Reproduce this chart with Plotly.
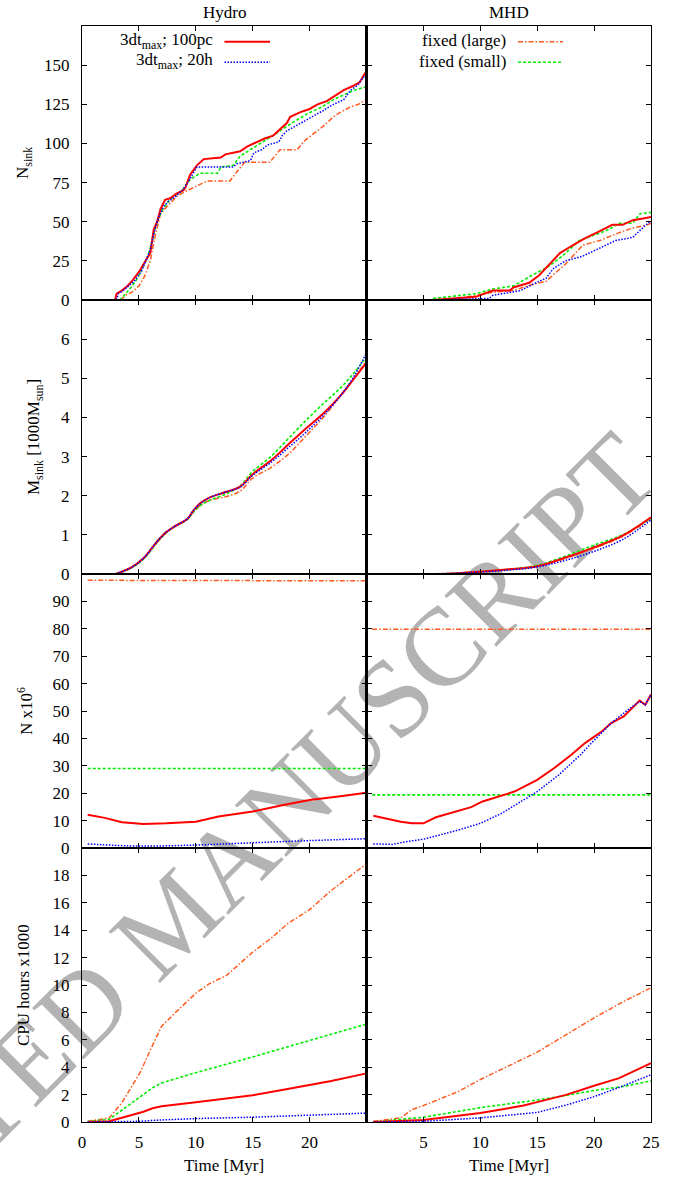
import plotly.graph_objects as go
from plotly.subplots import make_subplots

# ---------------- data ----------------
# Row 1: number of sinks (Hydro)
ns_h_red_t = [2.9, 3.05, 3.5, 4.0, 4.5, 5.1, 5.5, 6.0, 6.3, 6.6, 6.9, 7.3, 7.75, 8.3, 8.9, 9.1, 9.5, 10.1, 10.7, 12.2, 12.6, 13.9, 14.5, 15.4, 16.0, 16.8, 17.6, 18.0, 18.3, 19.2, 20.0, 20.7, 21.5, 22.1, 23.0, 23.9, 24.4, 24.8, 25.0]
ns_h_red_v = [0, 4, 6, 9, 13, 19, 24, 30, 45, 50, 58, 64, 65, 68, 70, 72, 80, 86, 90, 91, 93, 95, 98, 101, 103, 105, 110, 113, 117, 120, 122, 125, 127, 130, 134, 137, 139, 144, 146]
ns_h_blue_t = [3.0, 3.2, 3.6, 4.1, 4.6, 5.2, 5.6, 6.0, 6.4, 6.8, 7.2, 7.6, 8.2, 8.8, 9.3, 9.8, 10.1, 13.3, 13.6, 14.8, 15.1, 15.8, 16.3, 17.3, 17.6, 18.0, 19.0, 20.4, 21.2, 22.1, 23.0, 23.6, 24.2, 24.7, 25.0]
ns_h_blue_v = [0, 4, 6, 9, 12, 18, 25, 32, 45, 54, 60, 63, 66, 70, 75, 81, 85, 85, 87, 89, 94, 96, 99, 101, 105, 108, 112, 118, 121, 125, 128, 134, 137, 142, 144]
ns_h_green_t = [3.3, 3.6, 4.3, 4.8, 5.3, 5.8, 6.3, 6.7, 7.1, 7.6, 8.2, 8.8, 9.5, 10.0, 10.4, 11.9, 12.2, 13.3, 13.9, 14.8, 15.7, 16.5, 17.2, 18.0, 18.9, 19.8, 21.0, 22.1, 23.0, 23.9, 24.9, 25.0]
ns_h_green_v = [0, 2, 8, 13, 20, 28, 42, 52, 58, 63, 67, 70, 77, 79, 81, 81, 85, 86, 92, 96, 100, 104, 107, 111, 115, 119, 123, 128, 131, 134, 136, 137]
ns_h_orange_t = [3.4, 3.8, 4.4, 5.0, 5.5, 6.0, 6.4, 6.9, 7.5, 8.3, 9.0, 9.8, 10.4, 11.0, 13.0, 13.5, 14.3, 16.5, 17.4, 18.9, 19.6, 20.7, 21.2, 22.1, 22.5, 23.5, 24.3, 25.0]
ns_h_orange_v = [0, 3, 5, 9, 15, 25, 40, 55, 60, 66, 69, 72, 74, 76, 76, 81, 88, 88, 96, 96, 102, 108, 111, 117, 119, 123, 125, 128]
# Row 1: number of sinks (MHD)
ns_m_red_t = [5.85, 8.2, 9.6, 11.1, 12.6, 12.9, 14.3, 15.2, 16.1, 17.0, 17.9, 19.1, 20.5, 21.6, 22.5, 23.4, 24.3, 25.0]
ns_m_red_v = [0, 1, 2, 6, 6, 8, 11, 16, 23, 30, 34, 39, 44, 48, 48, 51, 52, 53]
ns_m_green_t = [5.85, 8.2, 9.6, 11.1, 12.9, 14.6, 15.9, 17.2, 18.7, 20.2, 21.3, 22.2, 23.4, 24.0, 24.7, 25.0]
ns_m_green_v = [1, 3, 4, 7, 9, 16, 21, 28, 38, 42, 45, 49, 49, 55, 56, 56]
ns_m_orange_t = [7.0, 8.2, 11.1, 12.9, 14.6, 15.8, 16.4, 17.5, 19.0, 20.5, 22.2, 23.4, 24.7, 25.0]
ns_m_orange_v = [0, 1, 5, 6, 10, 12, 16, 23, 35, 38, 43, 46, 48, 49]
ns_m_blue_t = [5.85, 10.8, 11.1, 13.5, 14.9, 15.8, 16.4, 17.5, 19.0, 20.5, 21.9, 23.4, 24.3, 24.7, 25.0]
ns_m_blue_v = [0, 1, 3, 6, 11, 14, 20, 25, 28, 33, 38, 40, 46, 49, 50]

# Row 2: sink mass [1000 Msun]
ms_h_t = [2.95, 4.3, 5.4, 6.6, 7.4, 8.1, 9.3, 9.7, 10.4, 11.2, 12.7, 13.9, 15.0, 16.6, 18.1, 19.6, 21.2, 22.7, 23.8, 25.0]
ms_h_red = [0, 0.16, 0.4, 0.83, 1.07, 1.21, 1.42, 1.59, 1.81, 1.95, 2.1, 2.23, 2.55, 2.9, 3.3, 3.7, 4.1, 4.55, 4.95, 5.4]
ms_h_green = [0, 0.15, 0.38, 0.8, 1.05, 1.2, 1.4, 1.55, 1.75, 1.88, 2.05, 2.25, 2.62, 3.0, 3.45, 3.9, 4.35, 4.75, 5.1, 5.55]
ms_h_blue = [0, 0.16, 0.4, 0.83, 1.07, 1.21, 1.42, 1.59, 1.8, 1.95, 2.1, 2.22, 2.52, 2.85, 3.22, 3.6, 4.05, 4.55, 5.0, 5.65]
ms_h_orange = [0, 0.15, 0.4, 0.82, 1.05, 1.2, 1.4, 1.55, 1.75, 1.88, 1.98, 2.12, 2.45, 2.72, 3.05, 3.5, 4.0, 4.55, 4.95, 5.45]
ms_m_t = [6.0, 8.0, 10.0, 12.5, 15.0, 17.5, 20.0, 22.5, 25.0]
ms_m_red = [0, 0.02, 0.06, 0.12, 0.2, 0.42, 0.68, 0.98, 1.45]
ms_m_green = [0, 0.02, 0.06, 0.12, 0.22, 0.46, 0.74, 1.0, 1.42]
ms_m_blue = [0, 0.02, 0.05, 0.1, 0.18, 0.35, 0.58, 0.88, 1.38]
ms_m_orange = [0, 0.02, 0.05, 0.11, 0.2, 0.4, 0.66, 0.96, 1.43]

# Row 3: number of cells x 10^6
nc_fixed_t = [0.5, 25.0]
nc_h_orange = [97.7, 97.5]
nc_h_green = [29.0, 29.0]
nc_m_orange = [79.8, 79.8]
nc_m_green = [19.4, 19.4]
nc_h_red_t = [0.5, 2.0, 3.5, 5.4, 7.4, 10.0, 12.0, 15.0, 17.7, 20.0, 22.7, 25.0]
nc_h_red_v = [12.1, 11.0, 9.4, 8.8, 9.0, 9.6, 11.5, 13.3, 15.7, 17.5, 18.9, 20.2]
nc_h_blue_t = [0.5, 5.0, 10.0, 15.0, 20.0, 25.0]
nc_h_blue_v = [1.5, 0.7, 1.1, 1.9, 2.7, 3.4]
nc_m_red_t = [0.6, 3.0, 4.0, 5.0, 6.1, 8.0, 9.2, 10.2, 11.9, 13.0, 15.0, 16.5, 18.0, 19.2, 20.7, 21.5, 22.6, 24.0, 24.5, 25.0]
nc_m_red_v = [11.8, 9.6, 9.0, 9.0, 11.2, 13.3, 14.9, 17.0, 19.1, 20.6, 24.9, 29.2, 34.0, 38.3, 42.6, 45.6, 48.0, 53.8, 52.3, 56.0]
nc_m_blue_t = [0.6, 2.3, 3.45, 5.0, 8.1, 10.0, 11.9, 13.8, 15.0, 16.9, 18.8, 19.9, 21.5, 23.0, 24.0, 24.5, 25.0]
nc_m_blue_v = [1.5, 1.3, 2.3, 3.2, 6.6, 9.0, 12.7, 17.6, 20.6, 26.7, 34.0, 38.9, 45.6, 50.5, 53.5, 52.3, 56.0]

# Row 4: CPU hours x 1000
cpu_h_orange_t = [0.5, 2.4, 3.5, 5.1, 6.2, 7.0, 8.1, 10.0, 11.2, 12.7, 15.0, 16.6, 18.1, 20.0, 21.9, 23.5, 25.0]
cpu_h_orange_v = [0.05, 0.3, 1.4, 3.6, 5.6, 7.0, 7.9, 9.4, 10.1, 10.7, 12.4, 13.4, 14.5, 15.5, 16.9, 17.9, 18.85]
cpu_h_green_t = [0.5, 2.4, 3.9, 5.4, 6.2, 7.0, 10.0, 15.0, 20.0, 25.0]
cpu_h_green_v = [0.02, 0.2, 1.1, 2.0, 2.5, 2.85, 3.6, 4.75, 5.95, 7.15]
cpu_h_red_t = [0.5, 2.4, 3.9, 5.4, 6.2, 7.0, 10.0, 15.0, 17.7, 20.0, 21.9, 25.0]
cpu_h_red_v = [0, 0.05, 0.4, 0.75, 1.0, 1.15, 1.45, 1.95, 2.35, 2.7, 3.0, 3.55]
cpu_h_blue_t = [0.5, 5.0, 7.0, 10.0, 15.0, 20.0, 25.0]
cpu_h_blue_v = [0, 0.05, 0.15, 0.25, 0.35, 0.5, 0.65]
cpu_m_orange_t = [0.6, 3.0, 4.0, 5.0, 8.0, 10.0, 12.5, 15.0, 17.6, 20.0, 22.6, 25.0]
cpu_m_orange_v = [0.05, 0.3, 0.9, 1.2, 2.2, 3.1, 4.1, 5.1, 6.4, 7.6, 8.8, 9.8]
cpu_m_red_t = [0.6, 5.0, 10.0, 13.8, 15.0, 17.6, 20.0, 22.2, 25.0]
cpu_m_red_v = [0, 0.15, 0.65, 1.2, 1.45, 2.0, 2.65, 3.2, 4.3]
cpu_m_t = [0.6, 5.0, 10.0, 15.0, 17.6, 20.0, 22.6, 25.0]
cpu_m_green_v = [0, 0.35, 1.05, 1.6, 1.95, 2.3, 2.6, 3.0]
cpu_m_blue_v = [0, 0.05, 0.3, 0.7, 1.25, 1.85, 2.65, 3.45]

# axis settings data
x_range = [0, 25]
x_ticks_left = [0, 5, 10, 15, 20]
x_ticks_right = [5, 10, 15, 20, 25]
y_ranges = [[0, 175], [0, 7], [0, 100], [0, 20]]
y_ticks = [[0, 25, 50, 75, 100, 125, 150], [0, 1, 2, 3, 4, 5, 6],
           [0, 10, 20, 30, 40, 50, 60, 70, 80, 90], [0, 2, 4, 6, 8, 10, 12, 14, 16, 18]]
y_titles = ["N<sub>sink</sub>", "M<sub>sink</sub> [1000M<sub>sun</sub>]", "N x10<sup>6</sup>", "CPU hours x1000"]
col_titles = ["Hydro", "MHD"]
legend_left = ["3dt<sub>max</sub>; 100pc", "3dt<sub>max</sub>; 20h"]
legend_right = ["fixed (large)", "fixed (small)"]
watermark = "ACCEPTED MANUSCRIPT"

# ---------------- styles ----------------
FONT = "Liberation Serif"
STY = {
    "red": dict(color="#ff0000", width=2.0, dash="solid"),
    "blue": dict(color="#0000ff", width=1.5, dash="1.5px,1.5px"),
    "green": dict(color="#00ee00", width=1.6, dash="3px,2px"),
    "orange": dict(color="#ff5a1e", width=1.5, dash="5px,2px,1.5px,2px"),
}

W, H = 681, 1178
ML, MR, MT, MB = 82, 30, 26, 56
PW, PH = W - ML - MR, H - MT - MB


def px_x(p):
    return (p - ML) / PW


def px_y(p):
    return 1 - (p - MT) / PH


fig = make_subplots(rows=4, cols=2, horizontal_spacing=0, vertical_spacing=0)


def add(row, col, t, v, key, shape="linear"):
    fig.add_trace(go.Scatter(x=t, y=v, mode="lines", line=dict(**STY[key]),
                             line_shape=shape, showlegend=False, hoverinfo="skip"),
                  row=row, col=col)


# Row 1
add(1, 1, ns_h_orange_t, ns_h_orange_v, "orange")
add(1, 1, ns_h_green_t, ns_h_green_v, "green")
add(1, 1, ns_h_red_t, ns_h_red_v, "red")
add(1, 1, ns_h_blue_t, ns_h_blue_v, "blue")
add(1, 2, ns_m_orange_t, ns_m_orange_v, "orange")
add(1, 2, ns_m_green_t, ns_m_green_v, "green")
add(1, 2, ns_m_red_t, ns_m_red_v, "red")
add(1, 2, ns_m_blue_t, ns_m_blue_v, "blue")
# Row 2
add(2, 1, ms_h_t, ms_h_orange, "orange", "spline")
add(2, 1, ms_h_t, ms_h_green, "green", "spline")
add(2, 1, ms_h_t, ms_h_red, "red", "spline")
add(2, 1, ms_h_t, ms_h_blue, "blue", "spline")
add(2, 2, ms_m_t, ms_m_orange, "orange", "spline")
add(2, 2, ms_m_t, ms_m_green, "green", "spline")
add(2, 2, ms_m_t, ms_m_red, "red", "spline")
add(2, 2, ms_m_t, ms_m_blue, "blue", "spline")
# Row 3
add(3, 1, nc_fixed_t, nc_h_orange, "orange")
add(3, 1, nc_fixed_t, nc_h_green, "green")
add(3, 1, nc_h_red_t, nc_h_red_v, "red")
add(3, 1, nc_h_blue_t, nc_h_blue_v, "blue", "spline")
add(3, 2, nc_fixed_t, nc_m_orange, "orange")
add(3, 2, nc_fixed_t, nc_m_green, "green")
add(3, 2, nc_m_red_t, nc_m_red_v, "red")
add(3, 2, nc_m_blue_t, nc_m_blue_v, "blue")
# Row 4
add(4, 1, cpu_h_orange_t, cpu_h_orange_v, "orange")
add(4, 1, cpu_h_green_t, cpu_h_green_v, "green")
add(4, 1, cpu_h_red_t, cpu_h_red_v, "red")
add(4, 1, cpu_h_blue_t, cpu_h_blue_v, "blue")
add(4, 2, cpu_m_orange_t, cpu_m_orange_v, "orange")
add(4, 2, cpu_m_t, cpu_m_green_v, "green")
add(4, 2, cpu_m_red_t, cpu_m_red_v, "red")
add(4, 2, cpu_m_t, cpu_m_blue_v, "blue")

axis_common = dict(showline=True, linecolor="black", linewidth=1, mirror="ticks",
                   ticks="inside", ticklen=5, tickwidth=1, tickcolor="black",
                   showgrid=False, zeroline=False,
                   tickfont=dict(family=FONT, size=17, color="black"))

for r in range(1, 5):
    for c in (1, 2):
        fig.update_xaxes(range=x_range, tickvals=(x_ticks_left if c == 1 else x_ticks_right),
                         showticklabels=(r == 4), ticklabelstandoff=5,
                         row=r, col=c, **axis_common)
        fig.update_yaxes(range=y_ranges[r - 1], tickvals=y_ticks[r - 1],
                         showticklabels=(c == 1), ticklabelstandoff=8,
                         row=r, col=c, **axis_common)

annotations = []
# y-axis titles
title_x = [24, 35, 25, 23]
for i, txt in enumerate(y_titles):
    annotations.append(dict(text=txt, xref="paper", yref="paper", x=px_x(title_x[i]),
                            y=1 - (i + 0.5) / 4, xanchor="center", yanchor="middle",
                            textangle=-90, showarrow=False,
                            font=dict(family=FONT, size=17, color="black")))
# column titles and x titles
for c, txt in enumerate(col_titles):
    cx = px_x(224) if c == 0 else px_x(508.5)
    annotations.append(dict(text=txt, xref="paper", yref="paper", x=cx, y=px_y(12),
                            xanchor="center", yanchor="middle", showarrow=False,
                            font=dict(family=FONT, size=17, color="black")))
    annotations.append(dict(text="Time [Myr]", xref="paper", yref="paper", x=cx, y=px_y(1165),
                            xanchor="center", yanchor="middle", showarrow=False,
                            font=dict(family=FONT, size=17, color="black")))

shapes = []
# legends
leg_rows = [41.7, 62.3]
leg_left_keys = ["red", "blue"]
leg_right_keys = ["orange", "green"]
for i in range(2):
    annotations.append(dict(text=legend_left[i], xref="paper", yref="paper", x=px_x(215),
                            y=px_y(leg_rows[i] - 1), xanchor="right", yanchor="middle",
                            showarrow=False, font=dict(family=FONT, size=17, color="black")))
    annotations.append(dict(text=legend_right[i], xref="paper", yref="paper", x=px_x(508),
                            y=px_y(leg_rows[i] - 1), xanchor="right", yanchor="middle",
                            showarrow=False, font=dict(family=FONT, size=17, color="black")))
    shapes.append(dict(type="line", xref="paper", yref="paper", x0=px_x(224.5), x1=px_x(270),
                       y0=px_y(leg_rows[i]), y1=px_y(leg_rows[i]), line=STY[leg_left_keys[i]]))
    shapes.append(dict(type="line", xref="paper", yref="paper", x0=px_x(518), x1=px_x(563),
                       y0=px_y(leg_rows[i]), y1=px_y(leg_rows[i]), line=STY[leg_right_keys[i]]))

# thicker divider between the two columns
shapes.append(dict(type="line", xref="paper", yref="paper", x0=px_x(366), x1=px_x(366),
                   y0=0, y1=1, line=dict(color="black", width=2)))

# watermark (drawn below the data): centred near (163, 910) px, rising at ~45 degrees
wm_cx, wm_cy, wm_half = 163, 910, 300
wm_dx, wm_dy = 0.7071 * wm_half, 0.7071 * wm_half
shapes.append(dict(type="line", xref="paper", yref="paper", layer="below",
                   x0=px_x(wm_cx - wm_dx), y0=px_y(wm_cy + wm_dy),
                   x1=px_x(wm_cx + wm_dx), y1=px_y(wm_cy - wm_dy),
                   line=dict(color="rgba(0,0,0,0)", width=0),
                   label=dict(text=watermark, textposition="middle",
                              yanchor="middle", padding=0,
                              font=dict(family=FONT, size=111, color="#b3b3b3"))))

fig.update_layout(width=W, height=H, margin=dict(l=ML, r=MR, t=MT, b=MB),
                  paper_bgcolor="white", plot_bgcolor="white",
                  annotations=annotations, shapes=shapes, showlegend=False)

fig.write_html("out.html")
